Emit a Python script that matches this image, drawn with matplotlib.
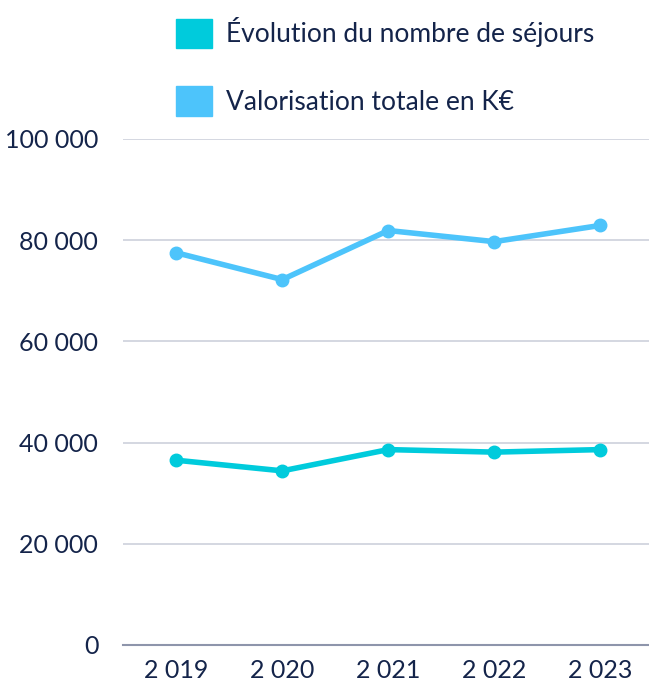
import matplotlib
matplotlib.use("Agg")
import matplotlib.pyplot as plt
from matplotlib.patches import Patch
from matplotlib.ticker import FuncFormatter

years = ["2 019", "2 020", "2 021", "2 022", "2 023"]
sejours = [36500, 34400, 38600, 38100, 38600]
valorisation = [77500, 72200, 81900, 79700, 82900]
labels = ["Évolution du nombre de séjours", "Valorisation totale en K€"]
colors = ["#00CBDC", "#4DC4FB"]
text_color = "#14244A"

plt.rcParams["font.family"] = ["Lato", "DejaVu Sans"]

fig = plt.figure(figsize=(6.49, 6.81), dpi=100)
ax = fig.add_axes([0.19, 0.053, 0.81, 0.743])

x = range(len(years))
ax.plot(x, sejours, color=colors[0], lw=4, marker="o", ms=9, clip_on=False, zorder=3)
ax.plot(x, valorisation, color=colors[1], lw=4, marker="o", ms=9, clip_on=False, zorder=3)

ax.set_xlim(-0.5, 4.46)
ax.set_ylim(0, 100000)
ax.set_yticks(range(0, 100001, 20000))
ax.yaxis.set_major_formatter(FuncFormatter(lambda v, p: f"{int(v):,}".replace(",", " ")))
ax.set_xticks(list(x))
ax.set_xticklabels(years)

ax.grid(axis="y", color="#CDD1DB", lw=1.2)
ax.set_axisbelow(True)
for s in ["top", "right", "left"]:
    ax.spines[s].set_visible(False)
ax.spines["bottom"].set_color("#8E95AB")
ax.spines["bottom"].set_linewidth(1.5)
ax.tick_params(length=0, labelsize=18, colors=text_color)
ax.tick_params(axis="y", pad=18)
ax.tick_params(axis="x", pad=10)

handles = [Patch(facecolor=c, edgecolor=c) for c in colors]
fig.legend(handles, labels, loc="upper left", bbox_to_anchor=(0.245, 1.0),
           frameon=False, fontsize=19, labelcolor=text_color,
           handlelength=1.35, handleheight=1.35, handletextpad=0.55,
           labelspacing=1.45, borderaxespad=0.25)

fig.savefig("out.png", dpi=100)
